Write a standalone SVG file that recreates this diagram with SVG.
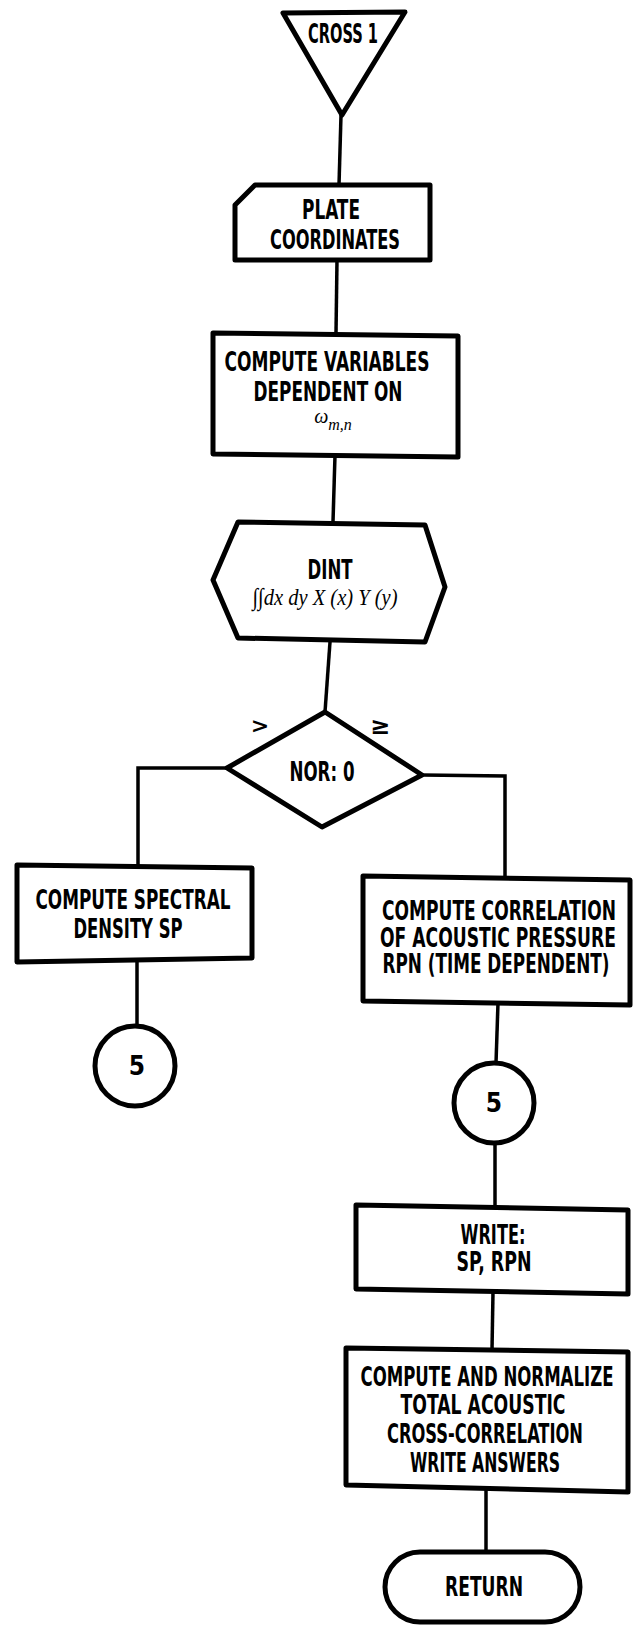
<svg xmlns="http://www.w3.org/2000/svg" width="633" height="1625" viewBox="0 0 633 1625">
<style>
.s{fill:#fff;stroke:#000;stroke-width:5;stroke-linejoin:round}
.c{fill:none;stroke:#000;stroke-width:3.5}
.t{font-family:"Liberation Sans Narrow","DejaVu Sans Condensed","Liberation Sans",sans-serif;font-weight:bold;font-size:26px;text-anchor:middle;fill:#000}
.g{font-family:"DejaVu Sans","Liberation Sans",sans-serif;font-weight:bold;text-anchor:middle;fill:#000}
.m{font-family:"Liberation Serif",serif;font-style:italic;fill:#000;text-anchor:middle}
</style>
<rect width="633" height="1625" fill="#fff"/>
<g id="connectors">
<polyline class="c" points="341,115 339,185"/>
<polyline class="c" points="337,260 336,333"/>
<polyline class="c" points="335,455 333,522"/>
<polyline class="c" points="330,642 325,712"/>
<polyline class="c" points="227,768 138,768 138,865"/>
<polyline class="c" points="422,775 505,776 505,878"/>
<polyline class="c" points="137,960 137,1025"/>
<polyline class="c" points="498,1003 496,1063"/>
<polyline class="c" points="495,1143 495,1207"/>
<polyline class="c" points="493,1292 492,1350"/>
<polyline class="c" points="486,1488 486,1552"/>
</g>
<g id="cross1">
<polygon class="s" points="283,13 405,12 342,115"/>
<text class="t" x="343" y="43" textLength="70" lengthAdjust="spacingAndGlyphs" font-size="25">CROSS 1</text>
</g>
<g id="plate">
<polygon class="s" points="255,185 430,185 430,260 235,260 235,205"/>
<text class="t" x="331" y="219" textLength="58" lengthAdjust="spacingAndGlyphs" font-size="24">PLATE</text>
<text class="t" x="335" y="249" textLength="130" lengthAdjust="spacingAndGlyphs" font-size="24">COORDINATES</text>
</g>
<g id="compute-vars">
<polygon class="s" points="213,333 458,336 458,457 213,454"/>
<text class="t" x="327" y="371" textLength="205" lengthAdjust="spacingAndGlyphs">COMPUTE VARIABLES</text>
<text class="t" x="328" y="401" textLength="149" lengthAdjust="spacingAndGlyphs">DEPENDENT ON</text>
<text class="m" x="333" y="423" font-size="20">ω<tspan font-size="16" dy="7">m,n</tspan></text>
</g>
<g id="dint">
<polygon class="s" points="238,522 425,525 445,587 425,642 238,638 213,580"/>
<text class="t" x="330" y="579" textLength="45" lengthAdjust="spacingAndGlyphs">DINT</text>
<text class="m" x="325" y="605" font-size="24" textLength="145" lengthAdjust="spacingAndGlyphs">∫∫dx dy X (x) Y (y)</text>
</g>
<g id="decision">
<polygon class="s" points="325,712 422,775 322,827 227,768"/>
<text class="t" x="322" y="781" textLength="65" lengthAdjust="spacingAndGlyphs">NOR: 0</text>
<text class="g" x="260" y="733" font-size="22">&gt;</text>
<text class="g" x="380" y="734" font-size="24">≥</text>
</g>
<g id="spectral">
<polygon class="s" points="17,865 252,868 252,958 17,962"/>
<text class="t" x="133" y="909" textLength="195" lengthAdjust="spacingAndGlyphs">COMPUTE SPECTRAL</text>
<text class="t" x="128" y="938" textLength="109" lengthAdjust="spacingAndGlyphs">DENSITY SP</text>
</g>
<g id="conn5-left">
<circle class="s" cx="135" cy="1066" r="40"/>
<text class="t" x="137" y="1075" font-size="22">5</text>
</g>
<g id="correlation">
<polygon class="s" points="363,876 630,880 630,1005 363,1001"/>
<text class="t" x="499" y="920" textLength="234" lengthAdjust="spacingAndGlyphs" font-size="23">COMPUTE CORRELATION</text>
<text class="t" x="498" y="947" textLength="236" lengthAdjust="spacingAndGlyphs" font-size="23">OF ACOUSTIC PRESSURE</text>
<text class="t" x="496" y="973" textLength="227" lengthAdjust="spacingAndGlyphs" font-size="23">RPN (TIME DEPENDENT)</text>
</g>
<g id="conn5-right">
<circle class="s" cx="494" cy="1103" r="40"/>
<text class="t" x="494" y="1112" font-size="22">5</text>
</g>
<g id="write">
<polygon class="s" points="356,1205 628,1210 628,1294 356,1289"/>
<text class="t" x="493" y="1244" textLength="65" lengthAdjust="spacingAndGlyphs">WRITE:</text>
<text class="t" x="494" y="1271" textLength="75" lengthAdjust="spacingAndGlyphs">SP, RPN</text>
</g>
<g id="normalize">
<polygon class="s" points="346,1348 628,1352 628,1492 346,1485"/>
<text class="t" x="487" y="1386" textLength="253" lengthAdjust="spacingAndGlyphs">COMPUTE AND NORMALIZE</text>
<text class="t" x="483" y="1414" textLength="165" lengthAdjust="spacingAndGlyphs">TOTAL ACOUSTIC</text>
<text class="t" x="485" y="1443" textLength="196" lengthAdjust="spacingAndGlyphs">CROSS-CORRELATION</text>
<text class="t" x="485" y="1472" textLength="150" lengthAdjust="spacingAndGlyphs">WRITE ANSWERS</text>
</g>
<g id="return">
<rect class="s" x="385" y="1552" width="195" height="70" rx="35" ry="35"/>
<text class="t" x="484" y="1596" textLength="78" lengthAdjust="spacingAndGlyphs" font-size="27">RETURN</text>
</g>
</svg>
